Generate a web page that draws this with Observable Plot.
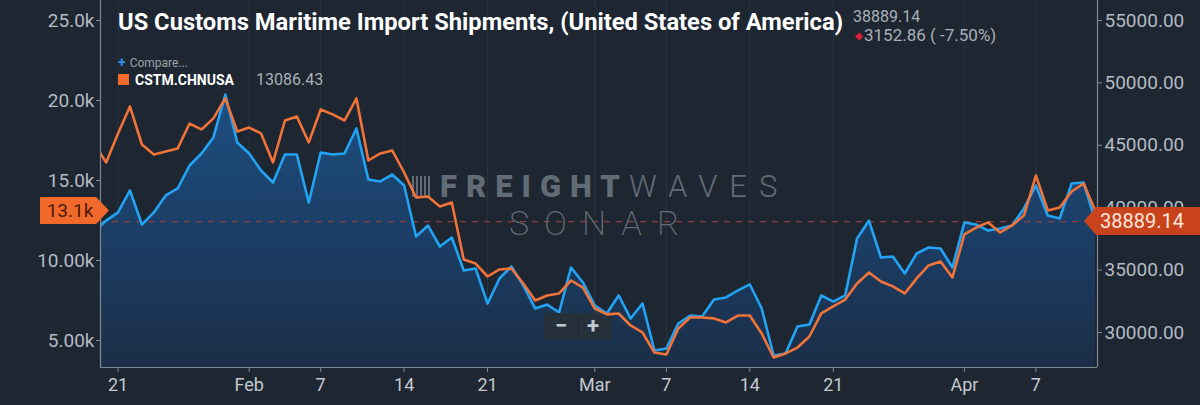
<!DOCTYPE html>
<html><head><meta charset="utf-8">
<script src="https://cdn.jsdelivr.net/npm/d3@7"></script>
<script src="https://cdn.jsdelivr.net/npm/@observablehq/plot@0.6"></script>
<style>
html,body{margin:0;padding:0;background:#1d2631;}
#wrap{position:relative;width:1200px;height:405px;overflow:hidden;background:#1d2631;font-family:Roboto,"Noto Sans",sans-serif;}
#wrap > svg{position:absolute;left:0;top:0;}
.abs{position:absolute;white-space:nowrap;line-height:1;}
#title{left:118px;top:10px;font-size:24px;font-weight:700;color:#ffffff;transform-origin:0 0;}
#compare{left:118px;top:55px;font-size:12px;color:#9aa3ac;}
#compare b{color:#2a8ef0;font-weight:700;font-size:14px;margin-right:4px;}
#legsq{left:118px;top:74px;width:11px;height:11px;background:#f26b2c;}
#legname{left:135px;top:73px;font-size:14px;font-weight:700;color:#ffffff;}
#legval{left:256px;top:72px;font-size:16px;color:#a9b0b8;}
#lastval{left:853px;top:9px;font-size:16px;color:#a9b0b8;}
#change{left:855px;top:27px;font-size:17px;color:#a9b0b8;}
#change span{color:#e0203a;font-size:10px;position:relative;top:-2px;margin-right:1px;}
#wm1{left:440px;top:171px;font-size:31px;color:#626c76;}
#wm1 .a{font-weight:900;letter-spacing:9px;}
#wm1 .b{font-weight:300;letter-spacing:12px;}
#wmicon{left:412px;top:176px;width:20px;height:21px;background:repeating-linear-gradient(90deg,#626c76 0 2px,transparent 2px 4px);}
#wm2{left:509px;top:206px;font-size:34px;font-weight:200;color:#626c76;letter-spacing:15px;}
#zoombox{left:544px;top:313px;width:68px;height:27px;background:#26303b;border-radius:2px;}
#zoombox .m{position:absolute;left:11px;top:2px;font-size:22px;font-weight:700;color:#c3cad1;}
#zoombox .p{position:absolute;left:43px;top:2px;font-size:22px;font-weight:700;color:#c3cad1;}
#zoombox .s{position:absolute;left:34px;top:4px;width:1px;height:19px;background:#1d2631;}
</style>
</head><body><div id="wrap"></div>
<script>
// ---- data ----
const firstDate = "2020-01-19";
const lastDate = "2020-04-12";
// US Customs Maritime Import Shipments (USA) – right axis
const blueValues = [
  38100,
  38970, 39620, 41380, 38650, 39620, 40980, 41540, 43380, 44340, 45630,
  49070, 45220, 44340, 42980, 42020, 44260, 44260, 40420, 44420, 44260,
  44340, 46350, 42260, 42100, 42660, 41780, 37690, 38570, 36890, 37610,
  34970, 35130, 32320, 34330, 35290, 33770, 31920, 32240, 31600, 35210,
  34010, 32160, 31520, 32970, 31120, 32320, 28560, 28720, 30720, 31360,
  31280, 32640, 32810, 33370, 33850, 31920, 28160, 28320, 30480, 30640,
  32970, 32480, 32970, 37530, 38970, 36010, 36090, 34730, 36330, 36810,
  36730, 35210, 38810, 38650, 38170, 38330, 38570, 39940, 41780, 39380,
  39140, 41940, 42020, 38889.14
];
// CSTM.CHNUSA – left axis
const orangeValues = [
  17300,
  16130, 17940, 19630, 17250, 16630, 16810, 17000, 18560, 18190, 18880,
  20130, 18060, 18310, 17940, 16130, 18750, 19000, 17380, 19440, 19130,
  18750, 20130, 16250, 16690, 16880, 15500, 13940, 14000, 13380, 13630,
  10060, 9810, 9000, 9440, 9500, 8560, 7500, 7810, 7940, 8750,
  8310, 7000, 6630, 6690, 5940, 5500, 4250, 4130, 5750, 6440,
  6440, 6380, 6130, 6560, 6560, 5440, 3940, 4190, 4560, 5250,
  6690, 7130, 7560, 8560, 9250, 8690, 8380, 7940, 8880, 9690,
  9940, 8940, 11630, 12060, 12380, 11750, 12190, 12810, 15310, 13130,
  13310, 14310, 14810, 13086.43
];
const xTickDates = ["2020-01-21","2020-02-01","2020-02-07","2020-02-14","2020-02-21","2020-03-01","2020-03-07","2020-03-14","2020-03-21","2020-04-01","2020-04-07"];
const xTickLabels = ["21","Feb","7","14","21","Mar","7","14","21","Apr","7"];
const leftTicks = [5000,10000,15000,20000,25000];
const leftTickLabels = ["5.00k","10.00k","15.0k","20.0k","25.0k"];
const rightTicks = [30000,35000,40000,45000,50000,55000];
const rightTickLabels = ["30000.00","35000.00","40000.00","45000.00","50000.00","55000.00"];
const titleText = "US Customs Maritime Import Shipments, (United States of America)";
const seriesName = "CSTM.CHNUSA";
const changeText = "3152.86 ( -7.50%)";

// ---- build ----
const parse = d3.utcParse("%Y-%m-%d");
const dates = d3.utcDay.range(parse(firstDate), d3.utcDay.offset(parse(lastDate), 1));
const blueData = dates.map((d, i) => ({date: d, value: blueValues[i]}));
const orangeData = dates.map((d, i) => ({date: d, value: orangeValues[i]}));
const blueLast = blueValues[blueValues.length - 1];
const orangeLast = orangeValues[orangeValues.length - 1];
const tickDates = xTickDates.map(parse);
const xLabelMap = new Map(tickDates.map((d, i) => [+d, xTickLabels[i]]));
const leftLabelMap = new Map(leftTicks.map((d, i) => [d, leftTickLabels[i]]));
const rightLabelMap = new Map(rightTicks.map((d, i) => [d, rightTickLabels[i]]));

const xDomain = [new Date(Date.UTC(2020,0,19,12,40)), new Date(Date.UTC(2020,3,12,4,5))];
const W = 1200, H = 405, mL = 100, mR = 103, mT = 0, mB = 38;
const axisCol = "#7f8993", textCol = "#b3bac2";

const wrap = document.getElementById("wrap");

const p1 = Plot.plot({
  width: W, height: H, marginLeft: mL, marginRight: mR, marginTop: mT, marginBottom: mB,
  style: {background: "transparent", fontFamily: "Roboto", overflow: "visible"},
  x: {type: "utc", domain: xDomain, axis: null},
  y: {domain: [27195.6, 56602.6], axis: null},
  marks: [
    Plot.gridX(tickDates, {stroke: "#3a4654", strokeOpacity: 0.45}),
    Plot.areaY(blueData, {x: "date", y: "value", fill: "url(#blueFill)", clip: true}),
    Plot.ruleY([blueLast], {stroke: "#8e4038", strokeDasharray: "6,6", strokeWidth: 1.2}),
    Plot.lineY(blueData, {x: "date", y: "value", stroke: "#22a3f3", strokeWidth: 2.6, clip: true}),
    Plot.axisY(rightTicks, {anchor: "right", label: null, tickSize: 4, tickPadding: 3,
      tickFormat: d => rightLabelMap.get(d), fontSize: 19, fill: textCol, stroke: axisCol})
  ]
});
const defs = d3.select(p1).insert("defs", ":first-child");
const lg = defs.append("linearGradient").attr("id", "blueFill")
  .attr("gradientUnits", "userSpaceOnUse").attr("x1", 0).attr("x2", 0).attr("y1", 90).attr("y2", 367);
lg.append("stop").attr("offset", "0%").attr("stop-color", "#1d4f82");
lg.append("stop").attr("offset", "55%").attr("stop-color", "#1b3d64");
lg.append("stop").attr("offset", "100%").attr("stop-color", "#1b2e47");
wrap.appendChild(p1);

// watermark & overlays (HTML)
wrap.insertAdjacentHTML("beforeend", `
<div class="abs" id="wmicon"></div>
<div class="abs" id="wm1"><span class="a">FREIGHT</span><span class="b">WAVES</span></div>
<div class="abs" id="wm2">SONAR</div>
<div class="abs" id="zoombox"><span class="m">−</span><span class="s"></span><span class="p">+</span></div>
`);

const p2 = Plot.plot({
  width: W, height: H, marginLeft: mL, marginRight: mR, marginTop: mT, marginBottom: mB,
  style: {background: "transparent", fontFamily: "Roboto", overflow: "visible"},
  x: {type: "utc", domain: xDomain, axis: null},
  y: {domain: [3312.5, 26250], axis: null},
  marks: [
    Plot.lineY(orangeData, {x: "date", y: "value", stroke: "#f0733a", strokeWidth: 2.6, clip: true}),
    Plot.ruleX(xDomain, {stroke: axisCol, strokeWidth: 1.2}),
    Plot.ruleY([3312.5], {stroke: axisCol, strokeWidth: 1.2}),
    Plot.axisX(tickDates, {anchor: "bottom", label: null, tickSize: 5, tickPadding: 6,
      tickFormat: d => xLabelMap.get(+d), fontSize: 18, fill: "#c4cad0", stroke: axisCol}),
    Plot.axisY(leftTicks, {anchor: "left", label: null, tickSize: 4, tickPadding: 2,
      tickFormat: d => leftLabelMap.get(d), fontSize: 19, fill: textCol, stroke: axisCol})
  ]
});
wrap.appendChild(p2);

// last-value labels positioned with the plots' own scales
const yR = p1.scale("y").apply(blueLast);
const yL = p2.scale("y").apply(orangeLast);
const ov = d3.select(wrap).append("svg").attr("width", W).attr("height", H)
  .style("font-family", "Roboto");
const rh = 14;
ov.append("polygon").attr("fill", "#c8421c")
  .attr("points", `1084,${yR} 1096,${yR - rh} 1200,${yR - rh} 1200,${yR + rh} 1096,${yR + rh}`);
ov.append("text").attr("x", 1100).attr("y", yR).attr("dy", "0.36em")
  .attr("font-size", 20).attr("fill", "#ffe8de").text(blueLast.toFixed(2));
const lh = 13.5;
ov.append("polygon").attr("fill", "#f26a2b")
  .attr("points", `40,${yL - lh} 96,${yL - lh} 109,${yL} 96,${yL + lh} 40,${yL + lh}`);
ov.append("text").attr("x", 70).attr("y", yL).attr("dy", "0.36em").attr("text-anchor", "middle")
  .attr("font-size", 19).attr("fill", "#4d1a07").text((orangeLast / 1000).toFixed(1) + "k");

// title & legend
wrap.insertAdjacentHTML("beforeend", `
<div class="abs" id="title"></div>
<div class="abs" id="lastval"></div>
<div class="abs" id="change"><span>◆</span></div>
<div class="abs" id="compare"><b>+</b>Compare...</div>
<div class="abs" id="legsq"></div>
<div class="abs" id="legname"></div>
<div class="abs" id="legval"></div>
`);
const t = document.getElementById("title");
t.textContent = titleText;
const tw = t.getBoundingClientRect().width;
t.style.transform = `scaleX(${725 / tw})`;
document.getElementById("lastval").textContent = blueLast.toFixed(2);
document.getElementById("change").append(changeText);
document.getElementById("legname").textContent = seriesName;
document.getElementById("legval").textContent = orangeLast.toFixed(2);
</script>
</body></html>
